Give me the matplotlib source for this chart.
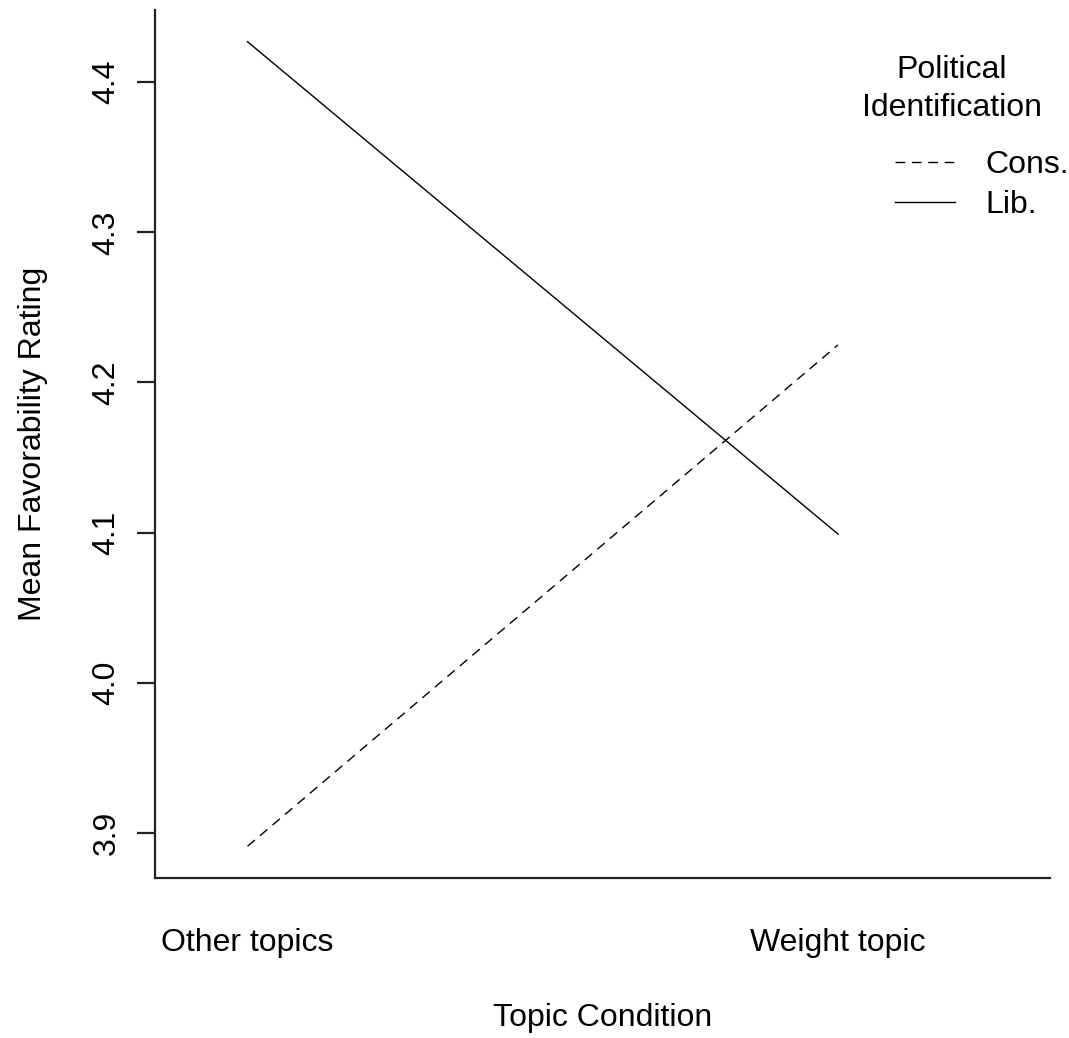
import matplotlib
matplotlib.use("Agg")
import matplotlib.pyplot as plt

plt.rcParams['font.family'] = ['Liberation Sans', 'DejaVu Sans']
plt.rcParams['lines.scale_dashes'] = False

# data
conditions = ["Other topics", "Weight topic"]
cons = [3.891, 4.225]
lib = [4.427, 4.099]
yticks = [3.9, 4.0, 4.1, 4.2, 4.3, 4.4]

W, H = 1069, 1038
fig = plt.figure(figsize=(W / 100, H / 100), dpi=100)
left, right, top, bottom = 155, 1050, 10, 878
ax = fig.add_axes([left / W, 1 - bottom / H, (right - left) / W, (bottom - top) / H])

x = [1, 2]
fs = 23

l_cons, = ax.plot(x, cons, color='black', lw=1.0, dashes=(7.0, 4.8), label='Cons.')
l_lib, = ax.plot(x, lib, color='black', lw=1.0, label='Lib.')

ax.set_xlim(0.8434, 2.359)
ax.set_ylim(3.8699, 4.4481)

for s in ['top', 'right']:
    ax.spines[s].set_visible(False)
for s in ['left', 'bottom']:
    ax.spines[s].set_linewidth(1.6)
    ax.spines[s].set_color('#222222')

ax.set_xticks(x)
ax.set_xticklabels(conditions, fontsize=fs)
ax.tick_params(axis='x', length=0, pad=36)

ax.set_yticks(yticks)
ax.set_yticklabels([f"{v:.1f}" for v in yticks], fontsize=fs, rotation=90, va='center')
ax.tick_params(axis='y', length=13, width=1.6, color='#222222', pad=11)

ax.set_xlabel('Topic Condition', fontsize=fs)
ax.xaxis.set_label_coords(0.5, -0.144)
ax.set_ylabel('Mean Favorability Rating', fontsize=fs)
ax.yaxis.set_label_coords(-0.1195, 0.5)

# legend title (R centres it on its own)
fig.text(952 / W, 1 - 89 / H, 'Political\nIdentification', ha='center', va='center',
         fontsize=fs, linespacing=1.34)

ax.legend(handles=[l_cons, l_lib], loc='upper left', fontsize=fs,
          bbox_to_anchor=(895 / W, 1 - 150 / H), bbox_transform=fig.transFigure,
          frameon=False, borderpad=0, borderaxespad=0,
          handlelength=1.875, handletextpad=0.94, labelspacing=0.32)

fig.savefig('out.png', dpi=100)
